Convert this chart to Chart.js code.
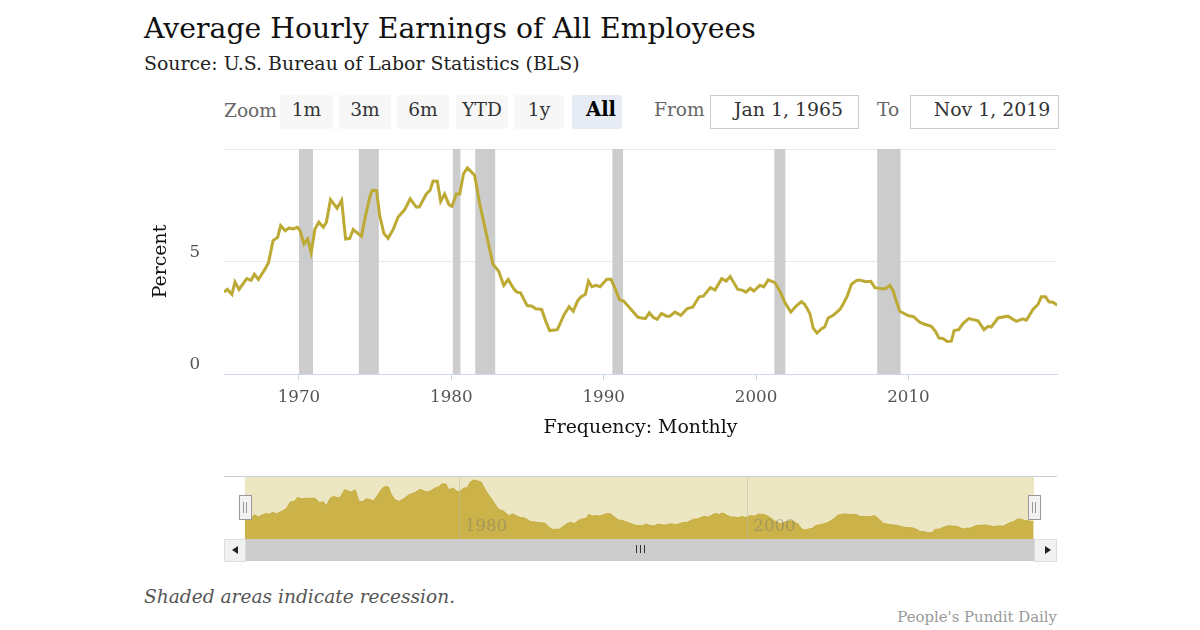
<!DOCTYPE html>
<html>
<head>
<meta charset="utf-8">
<title>Average Hourly Earnings of All Employees</title>
<script src="https://cdn.jsdelivr.net/npm/chart.js@4"></script>
<style>
  html, body { margin: 0; padding: 0; background: #fff; }
  body { width: 1200px; height: 630px; position: relative; overflow: hidden; font-family: "DejaVu Serif", serif; }
  .abs { position: absolute; white-space: nowrap; }
  #title { left: 144px; top: 11px; font-size: 28.3px; color: #111; line-height: 36px; }
  #subtitle { left: 144px; top: 50px; font-size: 18.9px; color: #222; line-height: 26px; }
  .lbl { color: #666; font-size: 18.6px; line-height: 26px; }
  .btn { top: 95px; height: 34px; line-height: 30px; background: #f7f7f7; color: #333; font-size: 18.6px; text-align: center; border-radius: 2px; }
  .btn.on { background: #e6ebf5; color: #000; font-weight: bold; font-size: 19.6px; text-indent: 8px; }
  .inp { top: 95px; height: 32px; line-height: 27px; border: 1px solid #ccc; color: #333; font-size: 18.9px; text-align: center; box-sizing: content-box; }
  canvas { position: absolute; }
  #mainWrap { position: absolute; left: 150px; top: 115px; width: 918px; height: 325px; }
  #navWrap { position: absolute; left: 224px; top: 476px; width: 833px; height: 63px; }
  #navBand { left: 245px; top: 477px; width: 789px; height: 62px; background: #ede6c2; }
  #navTop { left: 224px; top: 476px; width: 833px; height: 1px; background: #c5d0d6; }
  .handle { top: 495px; width: 11px; height: 23px; background: #f2f2f2; border: 1px solid #999; }
  .handle i { position: absolute; top: 6px; width: 1px; height: 11px; background: #999; }
  #track { left: 245px; top: 539px; width: 789px; height: 22px; background: #ccc; }
  .sb { top: 539px; height: 21px; background: #f1f1f1; border: 1px solid #ddd; box-sizing: content-box; }
  .arrow { top: 546px; width: 0; height: 0; border-top: 4px solid transparent; border-bottom: 4px solid transparent; }
  .grip { top: 545px; width: 1px; height: 8px; background: #333; }
  #note { left: 144px; top: 585px; font-size: 18.6px; font-style: italic; color: #555; line-height: 24px; }
  #credit { right: 143px; top: 608px; font-size: 14.9px; color: #999; line-height: 18px; }
</style>
</head>
<body>
<div class="abs" id="title">Average Hourly Earnings of All Employees</div>
<div class="abs" id="subtitle">Source: U.S. Bureau of Labor Statistics (BLS)</div>

<div class="abs lbl" style="left:224px;top:98px;">Zoom</div>
<div class="abs btn" style="left:280px;width:53px;">1m</div>
<div class="abs btn" style="left:339px;width:52px;">3m</div>
<div class="abs btn" style="left:397px;width:52px;">6m</div>
<div class="abs btn" style="left:456px;width:52px;">YTD</div>
<div class="abs btn" style="left:514px;width:50px;">1y</div>
<div class="abs btn on" style="left:572px;width:50px;">All</div>
<div class="abs lbl" style="left:654px;top:97px;">From</div>
<div class="abs inp" style="left:710px;width:147px;text-indent:8px;">Jan 1, 1965</div>
<div class="abs lbl" style="left:877px;top:97px;">To</div>
<div class="abs inp" style="left:910px;width:147px;text-indent:15px;">Nov 1, 2019</div>

<div id="mainWrap"><canvas id="mainChart"></canvas></div>

<div class="abs" id="navBand"></div>
<div id="navWrap"><canvas id="navChart"></canvas></div>
<div class="abs" id="navTop"></div>
<div class="abs handle" style="left:239px;"><i style="left:3px"></i><i style="left:6px"></i></div>
<div class="abs handle" style="left:1028px;"><i style="left:3px"></i><i style="left:6px"></i></div>
<div class="abs" id="track"></div>
<div class="abs sb" style="left:224px;width:20px;"></div>
<div class="abs sb" style="left:1034px;width:21px;"></div>
<div class="abs arrow" style="left:232px;border-right:6px solid #222;"></div>
<div class="abs arrow" style="left:1045px;border-left:6px solid #222;"></div>
<div class="abs grip" style="left:636px;"></div>
<div class="abs grip" style="left:640px;"></div>
<div class="abs grip" style="left:644px;"></div>

<div class="abs" id="note">Shaded areas indicate recession.</div>
<div class="abs" id="credit">People's Pundit Daily</div>

<script>
// decimal years
const years = [
  1965.09, 1965.3, 1965.6, 1965.8, 1966.07, 1966.57, 1966.86, 1967.07, 1967.34, 1967.77,
  1968.0, 1968.3, 1968.6, 1968.8, 1969.1, 1969.35, 1969.6, 1969.9, 1970.07, 1970.33,
  1970.57, 1970.8, 1971.05, 1971.3, 1971.6, 1971.8, 1972.07, 1972.5, 1972.8, 1973.06,
  1973.34, 1973.56, 1974.1, 1974.37, 1974.65, 1974.8, 1975.09, 1975.3, 1975.57, 1975.85,
  1976.2, 1976.5, 1976.94, 1977.3, 1977.7, 1977.9, 1978.36, 1978.6, 1978.8, 1979.08,
  1979.3, 1979.56, 1979.85, 1980.04, 1980.33, 1980.55, 1980.8, 1981.05, 1981.53, 1981.86,
  1982.3, 1982.73, 1983.1, 1983.44, 1983.73, 1984.1, 1984.3, 1984.54, 1984.98, 1985.3,
  1985.53, 1985.93, 1986.2, 1986.45, 1986.96, 1987.4, 1987.73, 1988.0, 1988.28, 1988.5,
  1988.8, 1989.0, 1989.23, 1989.5, 1989.76, 1990.2, 1990.48, 1990.77, 1991.03, 1991.3,
  1991.8, 1992.25, 1992.73, 1993.0, 1993.24, 1993.5, 1993.8, 1994.12, 1994.34, 1994.67,
  1995.07, 1995.48, 1995.84, 1996.26, 1996.54, 1997.0, 1997.3, 1997.75, 1998.04, 1998.3,
  1998.8, 1999.1, 1999.34, 1999.62, 1999.85, 2000.25, 2000.5, 2000.8, 2001.23, 2001.56,
  2001.9, 2002.28, 2002.66, 2002.98, 2003.2, 2003.53, 2003.75, 2004.0, 2004.3, 2004.5,
  2004.73, 2005.06, 2005.5, 2005.7, 2005.98, 2006.26, 2006.6, 2006.8, 2007.2, 2007.53,
  2007.8, 2008.23, 2008.5, 2008.78, 2009.0, 2009.2, 2009.43, 2009.98, 2010.35, 2010.74,
  2011.07, 2011.5, 2011.77, 2012.0, 2012.27, 2012.54, 2012.82, 2013.0, 2013.3, 2013.58,
  2013.96, 2014.57, 2014.96, 2015.22, 2015.44, 2015.88, 2016.53, 2017.08, 2017.5, 2017.74,
  2018.17, 2018.5, 2018.72, 2019.0, 2019.22, 2019.49, 2019.7, 2019.83
];
const values = [
  3.64, 3.76, 3.54, 4.09, 3.76, 4.24, 4.16, 4.43, 4.2, 4.66,
  4.95, 5.93, 6.07, 6.6, 6.37, 6.49, 6.45, 6.52, 6.37, 5.78,
  6.0, 5.4, 6.45, 6.75, 6.52, 6.75, 7.75, 7.37, 7.72, 6.0,
  6.03, 6.42, 6.12, 7.04, 7.87, 8.16, 8.16, 7.04, 6.25, 6.03,
  6.45, 6.97, 7.31, 7.79, 7.42, 7.42, 8.0, 8.16, 8.58, 8.57,
  7.67, 8.0, 7.52, 7.45, 8.0, 8.0, 8.9, 9.16, 8.84, 7.57,
  6.22, 4.88, 4.58, 3.94, 4.2, 3.79, 3.64, 3.61, 3.04, 3.01,
  2.9, 2.87, 2.34, 1.93, 1.97, 2.64, 2.99, 2.79, 3.24, 3.43,
  3.54, 4.13, 3.88, 3.94, 3.88, 4.21, 4.21, 3.76, 3.31, 3.24,
  2.87, 2.52, 2.46, 2.72, 2.52, 2.43, 2.69, 2.57, 2.57, 2.75,
  2.61, 2.91, 2.97, 3.43, 3.46, 3.84, 3.73, 4.24, 4.13, 4.33,
  3.76, 3.73, 3.64, 3.81, 3.69, 3.94, 3.87, 4.18, 4.06, 3.69,
  3.16, 2.75, 3.04, 3.21, 3.09, 2.69, 2.04, 1.82, 2.01, 2.09,
  2.49, 2.61, 2.87, 3.09, 3.46, 3.99, 4.16, 4.18, 4.1, 4.12,
  3.84, 3.79, 3.79, 3.94, 3.69, 3.24, 2.79, 2.6, 2.54, 2.3,
  2.21, 2.12, 1.9, 1.6, 1.58, 1.45, 1.46, 1.93, 1.97, 2.24,
  2.46, 2.36, 1.97, 2.12, 2.09, 2.49, 2.57, 2.34, 2.45, 2.39,
  2.87, 3.09, 3.43, 3.43, 3.21, 3.19, 3.09, 3.05
];
const recessionStarts = [1970.0, 1973.93, 1980.1, 1981.57, 1990.57, 2001.2, 2007.95];
const recessionEnds = [1970.92, 1975.24, 1980.6, 1982.88, 1991.27, 2001.92, 2009.48];
const xTicks = [1970, 1980, 1990, 2000, 2010];
const yTicks = [0, 5, 10];
const yTickLabels = ['0', '5', ''];
const navTicks = [1980, 2000];

const serif = '"DejaVu Serif", serif';
const points = years.map((y, i) => ({ x: y, y: values[i] }));

const recessionBands = {
  id: 'recessionBands',
  beforeDatasetsDraw(chart) {
    const { ctx, chartArea, scales } = chart;
    ctx.save();
    ctx.fillStyle = '#cccccc';
    recessionStarts.forEach((s, i) => {
      const x0 = scales.x.getPixelForValue(s);
      const x1 = scales.x.getPixelForValue(recessionEnds[i]);
      ctx.fillRect(x0, chartArea.top, x1 - x0, chartArea.bottom - chartArea.top);
    });
    ctx.restore();
  },
};

new Chart(document.getElementById('mainChart'), {
  type: 'line',
  data: {
    datasets: [{
      data: points,
      borderColor: '#bdaa34',
      borderWidth: 3,
      pointRadius: 0,
      tension: 0,
    }],
  },
  options: {
    responsive: true,
    maintainAspectRatio: false,
    animation: false,
    layout: { padding: { top: 9, right: 11, left: 0, bottom: 0 } },
    plugins: { legend: { display: false }, tooltip: { enabled: false } },
    scales: {
      x: {
        type: 'linear',
        min: 1965.08,
        max: 2019.75,
        afterBuildTicks(axis) { axis.ticks = xTicks.map(v => ({ value: v })); },
        afterFit(axis) { axis.height = 66; },
        grid: { drawOnChartArea: false, drawTicks: true, tickColor: '#ccd6eb', tickLength: 6 },
        border: { display: true, color: '#ccd6eb' },
        ticks: {
          autoSkip: false,
          maxRotation: 0,
          color: '#555',
          padding: 8,
          font: { family: serif, size: 16.7 },
          callback: v => String(v),
        },
        title: { display: true, text: 'Frequency: Monthly', color: '#111', font: { family: serif, size: 18.9 }, padding: { top: 0, bottom: 1 } },
      },
      y: {
        min: 0,
        max: 10,
        afterBuildTicks(axis) { axis.ticks = yTicks.map(v => ({ value: v })); },
        afterFit(axis) { axis.width = 74; },
        grid: { color: '#e6e9ec', drawTicks: false },
        border: { display: false },
        ticks: {
          color: '#555',
          padding: 24,
          labelOffset: -9,
          font: { family: serif, size: 16.7 },
          callback: v => yTickLabels[yTicks.indexOf(v)],
        },
        title: { display: true, text: 'Percent', color: '#111', font: { family: serif, size: 18.9 }, padding: 0 },
      },
    },
  },
  plugins: [recessionBands],
});

new Chart(document.getElementById('navChart'), {
  type: 'line',
  data: {
    datasets: [{
      data: points,
      borderColor: '#c4ab3c',
      borderWidth: 1,
      backgroundColor: '#cbb34a',
      fill: 'origin',
      pointRadius: 0,
      tension: 0,
    }],
  },
  options: {
    responsive: true,
    maintainAspectRatio: false,
    animation: false,
    layout: { padding: { left: 21, right: 23, top: 0, bottom: 0 } },
    plugins: { legend: { display: false }, tooltip: { enabled: false } },
    scales: {
      x: {
        type: 'linear',
        min: 1965.15,
        max: 2019.88,
        afterBuildTicks(axis) { axis.ticks = navTicks.map(v => ({ value: v })); },
        afterFit(axis) { axis.height = 0; },
        grid: { color: 'rgba(190,190,170,0.6)', drawTicks: false, z: 1 },
        border: { display: false },
        ticks: {
          z: 1,
          mirror: true,
          autoSkip: false,
          maxRotation: 0,
          labelOffset: 27,
          padding: 2,
          color: 'rgba(120,120,110,0.45)',
          font: { family: serif, size: 16.5 },
          callback: v => String(v),
        },
      },
      y: {
        display: false,
        min: 0.53,
        max: 9.74,
      },
    },
  },
});
</script>
</body>
</html>
